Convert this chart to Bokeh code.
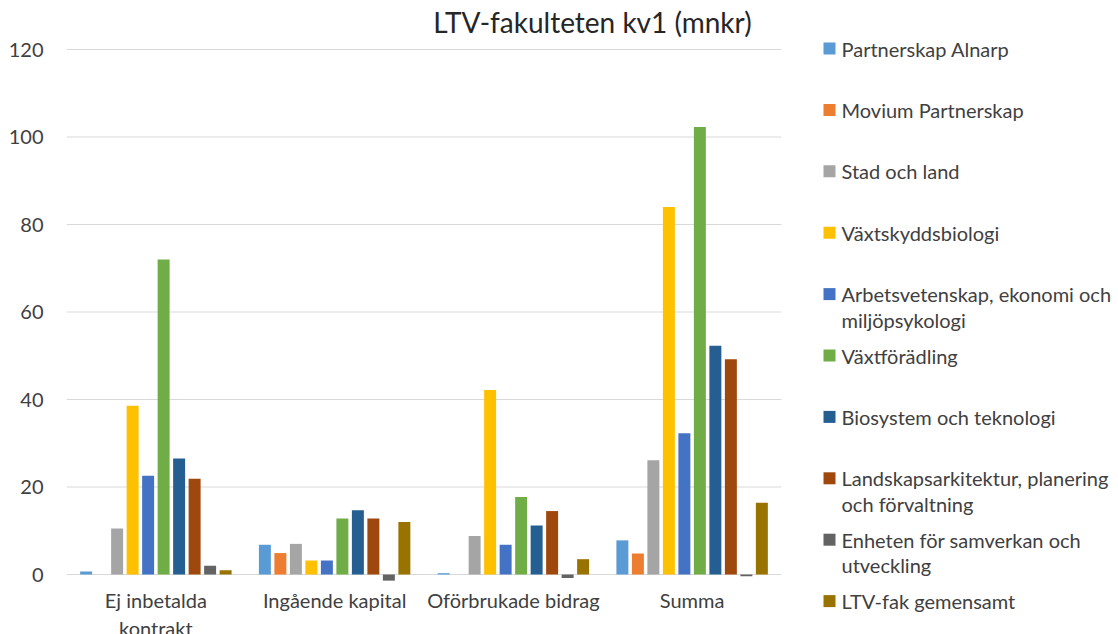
from bokeh.plotting import figure
from bokeh.models import Range1d, Label, FixedTicker, LinearAxis
from bokeh.embed import file_html
from bokeh.resources import INLINE
from bokeh.core.properties import value

# ---- data ----
categories = ["Ej inbetalda\nkontrakt", "Ingående kapital", "Oförbrukade bidrag", "Summa"]

series_names = [
    "Partnerskap Alnarp",
    "Movium Partnerskap",
    "Stad och land",
    "Växtskyddsbiologi",
    "Arbetsvetenskap, ekonomi och\nmiljöpsykologi",
    "Växtförädling",
    "Biosystem och teknologi",
    "Landskapsarkitektur, planering\noch förvaltning",
    "Enheten för samverkan och\nutveckling",
    "LTV-fak gemensamt",
]

partnerskap_alnarp = [0.7, 6.8, 0.3, 7.8]
movium_partnerskap = [0.0, 4.9, 0.0, 4.8]
stad_och_land = [10.5, 7.0, 8.8, 26.1]
vaxtskyddsbiologi = [38.6, 3.2, 42.2, 84.0]
arbetsvetenskap = [22.6, 3.2, 6.8, 32.3]
vaxtforadling = [72.0, 12.8, 17.7, 102.3]
biosystem = [26.5, 14.7, 11.2, 52.3]
landskapsarkitektur = [21.9, 12.8, 14.5, 49.2]
enheten = [2.0, -1.4, -0.8, -0.4]
ltv_fak = [1.0, 12.0, 3.5, 16.4]

series_values = [partnerskap_alnarp, movium_partnerskap, stad_och_land, vaxtskyddsbiologi,
                 arbetsvetenskap, vaxtforadling, biosystem, landskapsarkitektur, enheten, ltv_fak]

colors = ["#5B9BD5", "#ED7D31", "#A5A5A5", "#FFC000", "#4472C4",
          "#70AD47", "#255E91", "#9E480E", "#636363", "#997300"]

y_ticks = [0, 20, 40, 60, 80, 100, 120]
title_text = "LTV-fakulteten kv1 (mnkr)"

# ---- geometry / style ----
FONT = "Lato"
TXT = "#404040"
W, H = 1118, 634
LEFT = 66
PX_X = 178.75          # pixels per category
PX_Y = 4.375           # pixels per unit
Y0_PAGE = 574          # page y of value 0
FRAME_TOP_PAGE = 0
FRAME_LEFT_PAGE = LEFT
frame_w = W - LEFT
y_top = (Y0_PAGE - FRAME_TOP_PAGE) / PX_Y
y_bot = -(FRAME_TOP_PAGE + H - Y0_PAGE) / PX_Y


def dx(page_x):
    return (page_x - FRAME_LEFT_PAGE) / PX_X


def dy(page_y):
    return (Y0_PAGE - page_y) / PX_Y


p = figure(x_range=Range1d(0, frame_w / PX_X), y_range=Range1d(y_bot, y_top),
           width=W, height=H, output_backend="svg", toolbar_location=None,
           x_axis_location=None, y_axis_location="left",
           min_border_left=LEFT, min_border_right=0, min_border_top=0, min_border_bottom=0)
p.outline_line_color = None
p.background_fill_color = "white"
p.border_fill_color = "white"
p.xgrid.visible = False
p.ygrid.visible = False

ncat = len(categories)
n = len(series_values)
# gridlines over the plot area only
p.segment(x0=[0] * len(y_ticks), x1=[ncat] * len(y_ticks), y0=y_ticks, y1=y_ticks,
          line_color="#D9D9D9", line_width=1)

pitch = 0.0867
bar_w = 0.067
for j, vals in enumerate(series_values):
    off = (j - (n - 1) / 2) * pitch
    xs = [i + 0.5 + off for i in range(ncat)]
    p.vbar(x=xs, top=vals, bottom=0, width=bar_w, fill_color=colors[j], line_color=None)

# y axis
ya = p.yaxis[0]
ya.ticker = FixedTicker(ticks=y_ticks)
# x axis (categories), fixed just under the zero line
xa = LinearAxis(fixed_location=dy(578))
xa.ticker = FixedTicker(ticks=[i + 0.5 for i in range(ncat)])
xa.major_label_overrides = {i + 0.5: c for i, c in enumerate(categories)}
p.add_layout(xa, "below")

for ax in (xa, ya):
    ax.axis_line_color = None
    ax.major_tick_line_color = None
    ax.minor_tick_line_color = None
    ax.major_tick_out = 0
    ax.major_tick_in = 0
    ax.minor_tick_out = 0
    ax.minor_tick_in = 0
    ax.major_label_text_font = FONT
    ax.major_label_text_font_size = "20px"
    ax.major_label_text_color = TXT
ya.major_label_standoff = 23
xa.major_label_standoff = 9

# title
p.add_layout(Label(x=dx(592), y=dy(21), text=title_text, text_align="center",
                   text_baseline="middle", text_font=FONT, text_font_size="28px",
                   text_color="#262626"))

# legend
slot0 = 48
slot = 61.4
line_px = 25.5
ys_page = [slot0 + i * slot for i in range(n)]
text_y = [dy(yp + s.count("\n") * line_px / 2) for yp, s in zip(ys_page, series_names)]
p.rect(x=[dx(829)] * n, y=[dy(yp) for yp in ys_page], width=12, height=12,
       width_units="screen", height_units="screen", fill_color=colors, line_color=None)
p.text(x=[dx(841)] * n, y=text_y, text=series_names, text_baseline="middle", text_align="left",
       text_font=value(FONT), text_font_size="20px", text_color=TXT, text_line_height=1.06)

open("out.html", "w").write(file_html(p, INLINE))
